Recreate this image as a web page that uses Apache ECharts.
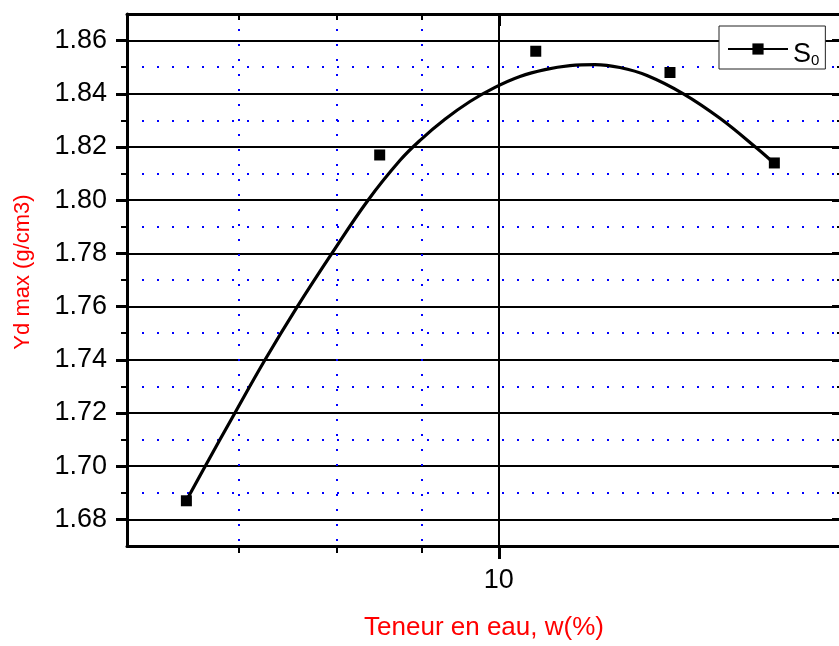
<!DOCTYPE html>
<html>
<head>
<meta charset="utf-8">
<script src="https://cdn.jsdelivr.net/npm/echarts@6/dist/echarts.min.js"></script>
<style>
html,body{margin:0;padding:0;background:#fff;}
#chart{width:839px;height:646px;}
</style>
</head>
<body>
<div id="chart"></div>
<script>
// Measured points (water content %, dry density g/cm3)
const moisture = [6.51, 8.49, 10.52, 12.65, 14.60];
const density = [1.687, 1.817, 1.856, 1.848, 1.814];
// Fitted curve
const fitMoisture = [6.515, 6.679, 6.960, 7.253, 7.580, 7.952, 8.355, 8.731, 8.974, 9.286, 9.611, 9.947, 10.294, 10.654, 11.026, 11.411, 11.810, 12.257, 12.878, 13.549, 14.255, 14.592];
const fitDensity = [1.6875, 1.6999, 1.7201, 1.7400, 1.7599, 1.7801, 1.8000, 1.8150, 1.8225, 1.8304, 1.8371, 1.8424, 1.8465, 1.8491, 1.8506, 1.8510, 1.8499, 1.8469, 1.8401, 1.8308, 1.8195, 1.8139];
// Ticks
const yMajorTicks = [1.68, 1.70, 1.72, 1.74, 1.76, 1.78, 1.80, 1.82, 1.84, 1.86];
const yMinorTicks = [1.69, 1.71, 1.73, 1.75, 1.77, 1.79, 1.81, 1.83, 1.85];
const xMajorTicks = [10];
const xMinorTicks = [7, 8, 9];
const xTickLabels = [10];
const seriesName = 'S0';
const xTitle = 'Teneur en eau, w(%)';
const yTitle = 'Yd max (g/cm3)';

const FONT = '"Liberation Sans", Arial, sans-serif';
const chart = echarts.init(document.getElementById('chart'), null, {renderer: 'canvas'});

const X_MIN = 6, X_MAX = 16, Y_MIN = 1.67, Y_MAX = 1.87;
const dotted = {type: [2, 13], width: 2, color: '#0000ff'};

function xAx(extra) {
  return Object.assign({
    type: 'log', logBase: 10, min: X_MIN, max: X_MAX,
    axisLine: {show: false},
    axisTick: {show: false},
    axisLabel: {show: false},
    splitLine: {show: false}
  }, extra);
}
function yAx(extra) {
  return Object.assign({
    type: 'value', min: Y_MIN, max: Y_MAX,
    axisLine: {show: false},
    axisTick: {show: false},
    axisLabel: {show: false},
    splitLine: {show: false}
  }, extra);
}

const option = {
  animation: false,
  backgroundColor: '#fff',
  grid: {left: 127, top: 14, right: -2, bottom: 100, containLabel: false, outerBoundsMode: 'none'},
  legend: {
    left: 719, top: 26,
    data: [seriesName],
    selectedMode: false,
    itemWidth: 60, itemHeight: 14,
    padding: [0, 6, 1, 8],
    borderColor: '#222', borderWidth: 1,
    backgroundColor: '#fff',
    formatter: function () { return '{s|S}{sub|0}'; },
    textStyle: {
      color: '#000', fontFamily: FONT, fontSize: 27,
      rich: {
        s: {fontSize: 27, fontFamily: FONT, color: '#000', lineHeight: 38, verticalAlign: 'bottom'},
        sub: {fontSize: 15, fontFamily: FONT, color: '#000', lineHeight: 14, padding: [27, 0, 0, 0], verticalAlign: 'bottom'}
      }
    }
  },
  xAxis: [
    xAx({
      position: 'bottom',
      axisLine: {show: true, lineStyle: {color: '#000', width: 3}},
      axisTick: {show: true, customValues: xMajorTicks, length: 13, lineStyle: {color: '#000', width: 3}},
      axisLabel: {show: true, customValues: xTickLabels, color: '#000', fontSize: 27, fontFamily: FONT, margin: 21,
        formatter: function (v) { return String(Math.round(v)); }},
      splitLine: {show: true, lineStyle: {color: '#000', width: 2}},
      name: xTitle, nameLocation: 'middle', nameGap: 69,
      nameTextStyle: {color: '#ff0000', fontSize: 26, fontFamily: FONT}
    }),
    xAx({
      position: 'bottom',
      axisTick: {show: true, customValues: xMinorTicks, length: 7, lineStyle: {color: '#000', width: 2}},
      splitLine: {show: true, lineStyle: dotted}
    }),
    xAx({
      position: 'top',
      axisLine: {show: true, lineStyle: {color: '#000', width: 3}},
      axisTick: {show: true, inside: true, customValues: xMajorTicks, length: 12, lineStyle: {color: '#000', width: 3}}
    }),
    xAx({
      position: 'top',
      axisTick: {show: true, inside: true, customValues: xMinorTicks, length: 6, lineStyle: {color: '#000', width: 2}}
    })
  ],
  yAxis: [
    yAx({
      position: 'left',
      axisLine: {show: true, lineStyle: {color: '#000', width: 3}},
      axisTick: {show: true, customValues: yMajorTicks, length: 11, lineStyle: {color: '#000', width: 3}},
      axisLabel: {show: true, customValues: yMajorTicks, color: '#000', fontSize: 27, fontFamily: FONT, margin: 20,
        formatter: function (v) { return v.toFixed(2); }},
      splitLine: {show: true, lineStyle: {color: '#000', width: 2}},
      name: yTitle, nameLocation: 'middle', nameGap: 93,
      nameTextStyle: {color: '#ff0000', fontSize: 22, fontFamily: FONT, padding: [0, 0, 0, 16]}
    }),
    yAx({
      position: 'left',
      axisTick: {show: true, customValues: yMinorTicks, length: 6, lineStyle: {color: '#000', width: 2}},
      splitLine: {show: true, lineStyle: dotted}
    }),
    yAx({
      position: 'right',
      axisLine: {show: true, lineStyle: {color: '#000', width: 3}},
      axisTick: {show: true, inside: true, customValues: yMajorTicks, length: 9, lineStyle: {color: '#000', width: 3}}
    }),
    yAx({
      position: 'right',
      axisTick: {show: true, inside: true, customValues: yMinorTicks, length: 4, lineStyle: {color: '#000', width: 2}}
    })
  ],
  series: [
    {
      name: seriesName, type: 'line', xAxisIndex: 0, yAxisIndex: 0,
      data: fitMoisture.map(function (x, i) { return [x, fitDensity[i]]; }),
      smooth: 0.4, symbol: 'rect', symbolSize: 11, showSymbol: false,
      lineStyle: {color: '#000', width: 3.2},
      itemStyle: {color: '#000', opacity: 1},
      z: 3, silent: true
    },
    {
      name: seriesName, type: 'scatter', xAxisIndex: 0, yAxisIndex: 0,
      data: moisture.map(function (x, i) { return [x, density[i]]; }),
      symbol: 'rect', symbolSize: 11,
      itemStyle: {color: '#000', opacity: 1},
      z: 4, silent: true
    }
  ]
};
chart.setOption(option);
</script>
</body>
</html>
